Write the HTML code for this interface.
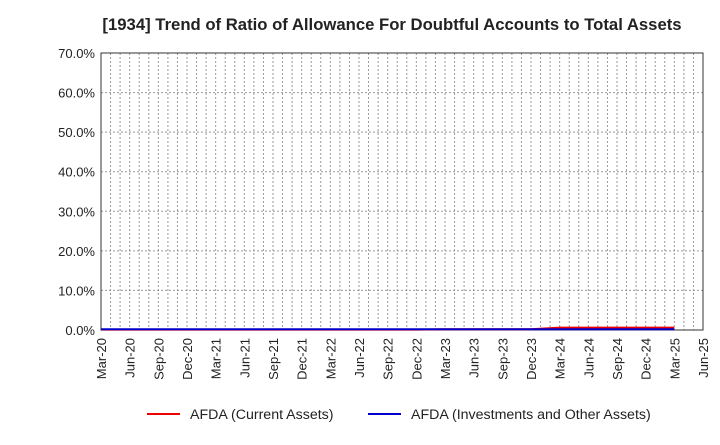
<!DOCTYPE html>
<html><head><meta charset="utf-8"><style>
body{margin:0;background:#fff;width:720px;height:440px;overflow:hidden;font-family:"Liberation Sans",sans-serif}
</style></head><body>
<svg id="chart" width="720" height="440" xmlns="http://www.w3.org/2000/svg" font-family="Liberation Sans, sans-serif">
<text x="392" y="30" text-anchor="middle" font-size="16.7" font-weight="bold" fill="#222">[1934]  Trend of Ratio of Allowance For Doubtful Accounts to Total Assets</text>
<g id="grid"></g><g id="axes"></g><g id="series"></g>
<g>
<line x1="147" y1="414" x2="180" y2="414" stroke="#e00" stroke-width="2"/>
<text x="190" y="419" font-size="14.2" fill="#222">AFDA (Current Assets)</text>
<line x1="368" y1="414" x2="401" y2="414" stroke="#00c" stroke-width="2"/>
<text x="411" y="419" font-size="14.2" fill="#222">AFDA (Investments and Other Assets)</text>
</g>
</svg>
<script>
const xLabels=["Mar-20","Jun-20","Sep-20","Dec-20","Mar-21","Jun-21","Sep-21","Dec-21","Mar-22","Jun-22","Sep-22","Dec-22","Mar-23","Jun-23","Sep-23","Dec-23","Mar-24","Jun-24","Sep-24","Dec-24","Mar-25","Jun-25"];
const yTicks=[0,10,20,30,40,50,60,70];
const currentAssets=[0.1,0.1,0.1,0.1,0.1,0.1,0.1,0.1,0.1,0.1,0.1,0.1,0.2,0.2,0.2,0.2,0.6,0.6,0.6,0.6,0.6];
const investments=[0.2,0.2,0.2,0.2,0.2,0.2,0.2,0.2,0.2,0.2,0.2,0.2,0.2,0.2,0.2,0.2,0.2,0.2,0.2,0.2,0.2];
const L=101,R=703,T=53,B=330,months=63;
const xq=i=>L+(R-L)*(i*3)/months;
const y=v=>B-(B-T)*v/70;
const NS="http://www.w3.org/2000/svg";
function mk(tag,attrs,parent){const e=document.createElementNS(NS,tag);for(const k in attrs)e.setAttribute(k,attrs[k]);parent.appendChild(e);return e;}
const grid=document.getElementById('grid'),axes=document.getElementById('axes'),ser=document.getElementById('series');
for(let m=1;m<months;m++){const x=L+(R-L)*m/months;
const g=mk('line',{x1:x,y1:T,x2:x,y2:B,stroke:'#999','stroke-dasharray':'2,2','stroke-width':1},grid);

}
yTicks.forEach(v=>{if(v>0&&v<70){const g=mk('line',{x1:L,y1:y(v),x2:R,y2:y(v),stroke:'#999','stroke-dasharray':'2,2'},grid);

}
const t=mk('text',{x:L-6,y:y(v)+5,'text-anchor':'end','font-size':13,fill:'#222'},axes);t.textContent=v.toFixed(1)+'%';

});
const fr=mk('rect',{x:L,y:T,width:R-L,height:B-T,fill:'none',stroke:'#333','stroke-width':1},axes);


xLabels.forEach((s,i)=>{const x=xq(i);const t=mk('text',{x:0,y:0,'text-anchor':'end','font-size':13,fill:'#222',transform:`translate(${x+5},${B+8}) rotate(-90)`},axes);t.textContent=s;

});
function line(data,color,name){const p=mk('polyline',{points:data.map((v,i)=>xq(i)+','+y(v)).join(' '),fill:'none',stroke:color,'stroke-width':2},ser);

}
line(currentAssets,'#e00','line-current-assets');
line(investments,'#00c','line-investments');
</script>
</body></html>
